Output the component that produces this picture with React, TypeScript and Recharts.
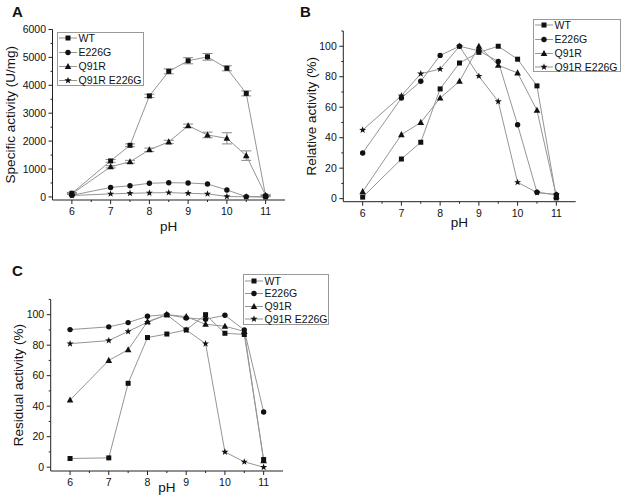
import React from 'react';
import { LineChart, Line, XAxis, YAxis, Legend, ErrorBar } from 'recharts';

const phValues = [6, 7, 7.5, 8, 8.5, 9, 9.5, 10, 10.5, 11];
const xTicks = [6, 6.5, 7, 7.5, 8, 8.5, 9, 9.5, 10, 10.5, 11];
const seriesNames = ['WT', 'E226G', 'Q91R', 'Q91R E226G'];

// A - specific activity (U/mg)
const specWT = [130, 1290, 1850, 3620, 4500, 4880, 5020, 4610, 3710, 30];
const specWTErr = [30, 50, 50, 60, 90, 110, 120, 90, 90, 20];
const specE226G = [60, 340, 400, 490, 510, 500, 465, 250, 10, 5];
const specQ91R = [110, 1080, 1260, 1690, 1970, 2550, 2220, 2100, 1480, 60];
const specQ91RErr = [20, 40, 50, 60, 60, 60, 100, 200, 170, 20];
const specDouble = [50, 110, 130, 145, 155, 130, 110, 15, 5, 0];
const specTicks = [0, 500, 1000, 1500, 2000, 2500, 3000, 3500, 4000, 4500, 5000, 5500, 6000];

// B - relative activity (%)
const relWT = [1, 26, 37, 72, 89, 96, 100, 91.5, 74, 0.5];
const relE226G = [30, 66, 77, 94, 100, 97, 90, 48.5, 4.2, 2.6];
const relQ91R = [4.6, 42, 50, 66, 77, 100, 87.5, 82.5, 58, 1.5];
const relDouble = [45, 67.5, 82, 85, 100, 80.4, 63.8, 10.7, 4, 2.6];

// C - residual activity (%)
const resWT = [5.7, 6.1, 55, 85, 87.3, 90, 100, 87.8, 87, 5];
const resE226G = [90.2, 92, 94.8, 99, 100, 97.8, 97, 99.6, 90, 36.2];
const resQ91R = [44, 70, 77, 95.4, 100, 98.7, 93.7, 92.4, 89, 4.2];
const resDouble = [81, 83, 89, 95, 100, 90, 81, 10, 3.5, 0];
const pctTicks = [0, 10, 20, 30, 40, 50, 60, 70, 80, 90, 100, 110];

const FONT = 'Arial, "Liberation Sans", sans-serif';
const LINE = '#959595';
const INK = '#111';
const AXIS = '#222';
const TICK_SIZE = 4;
const TICK_GAP = 3;

const shapes: Record<string, string> = {
  WT: 'square',
  E226G: 'circle',
  Q91R: 'triangle',
  'Q91R E226G': 'star',
};

const starPoints = (cx: number, cy: number, ro: number, ri: number) => {
  const pts: string[] = [];
  for (let i = 0; i < 10; i++) {
    const r = i % 2 === 0 ? ro : ri;
    const a = -Math.PI / 2 + (i * Math.PI) / 5;
    pts.push(`${cx + r * Math.cos(a)},${cy + r * Math.sin(a)}`);
  }
  return pts.join(' ');
};

const Marker = ({ shape, cx, cy }: { shape: string; cx: number; cy: number }) => {
  if (shape === 'square') return <rect x={cx - 2.5} y={cy - 2.5} width={5} height={5} fill={INK} />;
  if (shape === 'circle') return <circle cx={cx} cy={cy} r={2.7} fill={INK} />;
  if (shape === 'triangle')
    return <polygon points={`${cx},${cy - 3.6} ${cx - 3.3},${cy + 2.5} ${cx + 3.3},${cy + 2.5}`} fill={INK} />;
  return <polygon points={starPoints(cx, cy, 3.7, 1.5)} fill={INK} />;
};

const dotFor = (name: string) => (p: any) =>
  p.cx == null || p.cy == null ? <g key={p.index} /> : (
    <g key={p.index}>
      <Marker shape={shapes[name]} cx={p.cx} cy={p.cy} />
    </g>
  );

const XTick = ({ x, y, payload }: any) => {
  const v = payload.value;
  const major = Number.isInteger(v);
  const ay = y - TICK_SIZE - TICK_GAP;
  return (
    <g>
      <line x1={x} x2={x} y1={ay} y2={ay + (major ? 4 : 2)} stroke={AXIS} />
      {major && (
        <text x={x} y={ay + 15} textAnchor="middle" fontSize={10.5} fontFamily={FONT} fill={INK}>
          {v}
        </text>
      )}
    </g>
  );
};

const makeYTick = (step: number, maxLabel: number) => ({ x, y, payload }: any) => {
  const v = payload.value;
  const major = v % step === 0;
  const ax = x + TICK_SIZE + TICK_GAP;
  return (
    <g>
      <line x1={ax - (major ? 4 : 2)} x2={ax} y1={y} y2={y} stroke={AXIS} />
      {major && v <= maxLabel && (
        <text x={ax - 6.5} y={y + 3.7} textAnchor="end" fontSize={10.5} fontFamily={FONT} fill={INK}>
          {v}
        </text>
      )}
    </g>
  );
};

const LegendBox = ({ payload, w, h, rows }: any) => {
  const items = [...(payload || [])].sort(
    (a: any, b: any) => seriesNames.indexOf(a.value) - seriesNames.indexOf(b.value)
  );
  return (
    <svg width={w} height={h} style={{ display: 'block' }}>
      <rect x={0.5} y={0.5} width={w - 1} height={h - 1} fill="#fff" stroke="#999" />
      {items.map((p: any, i: number) => (
        <g key={p.value}>
          <line x1={2} x2={20} y1={rows[i]} y2={rows[i]} stroke={LINE} />
          <Marker shape={shapes[p.value]} cx={11} cy={rows[i]} />
          <text x={21.5} y={rows[i] + 3.8} fontSize={10.5} fontFamily={FONT} fill={INK}>
            {p.value}
          </text>
        </g>
      ))}
    </svg>
  );
};

const buildRows = (wt: number[], e: number[], q: number[], d: number[]) =>
  phValues.map((ph, i) => ({ ph, wt: wt[i], e226g: e[i], q91r: q[i], dbl: d[i] }));

const dataA = phValues.map((ph, i) => ({
  ph,
  wt: specWT[i],
  wtErr: specWTErr[i],
  e226g: specE226G[i],
  q91r: specQ91R[i],
  q91rErr: specQ91RErr[i],
  dbl: specDouble[i],
}));
const dataB = buildRows(relWT, relE226G, relQ91R, relDouble);
const dataC = buildRows(resWT, resE226G, resQ91R, resDouble);

const labelStyle = { fontSize: 13.5, fontFamily: FONT, fill: INK };

const seriesLines = (withErr: boolean) => [
  <Line key="wt" dataKey="wt" name={seriesNames[0]} stroke={LINE} strokeWidth={1} dot={dotFor('WT')} isAnimationActive={false}>
    {withErr && <ErrorBar dataKey="wtErr" width={5} stroke="#888" strokeWidth={1} direction="y" />}
  </Line>,
  <Line key="e" dataKey="e226g" name={seriesNames[1]} stroke={LINE} strokeWidth={1} dot={dotFor('E226G')} isAnimationActive={false} />,
  <Line key="q" dataKey="q91r" name={seriesNames[2]} stroke={LINE} strokeWidth={1} dot={dotFor('Q91R')} isAnimationActive={false}>
    {withErr && <ErrorBar dataKey="q91rErr" width={5} stroke="#888" strokeWidth={1} direction="y" />}
  </Line>,
  <Line key="d" dataKey="dbl" name={seriesNames[3]} stroke={LINE} strokeWidth={1} dot={dotFor('Q91R E226G')} isAnimationActive={false} />,
];

const panelLabel = (text: string, left: number, top: number) => (
  <div style={{ position: 'absolute', left, top, fontFamily: FONT, fontWeight: 'bold', fontSize: 15, lineHeight: '17px', color: INK }}>
    {text}
  </div>
);

export default function App() {
  return (
    <div style={{ position: 'absolute', left: 0, top: 0, width: 622, height: 503, background: '#fff', overflow: 'hidden' }}>
      <div style={{ position: 'absolute', left: 0, top: 0 }}>
        <LineChart width={310} height={250} data={dataA} margin={{ top: 29.5, right: 25, bottom: 10, left: 0 }}>
          <XAxis
            type="number"
            dataKey="ph"
            domain={[5.5, 11.5]}
            ticks={xTicks}
            interval={0}
            tickSize={TICK_SIZE}
            tickMargin={TICK_GAP}
            tickLine={false}
            tick={<XTick />}
            stroke={AXIS}
            height={40}
            label={{ value: 'pH', position: 'insideBottom', offset: 9, style: labelStyle }}
          />
          <YAxis
            type="number"
            domain={[-110, 6000]}
            ticks={specTicks}
            interval={0}
            tickSize={TICK_SIZE}
            tickMargin={TICK_GAP}
            tickLine={false}
            tick={makeYTick(1000, 6000)}
            stroke={AXIS}
            width={52.5}
            label={{ value: 'Specific activity (U/mg)', angle: -90, position: 'insideLeft', offset: 10, style: { ...labelStyle, textAnchor: 'middle' } }}
          />
          <Legend
            layout="vertical"
            align="center"
            verticalAlign="middle"
            wrapperStyle={{ left: 57, top: 31.5, width: 87, height: 54 }}
            content={(props: any) => <LegendBox payload={props.payload} w={87} h={54} rows={[6, 20.5, 34.5, 48.5]} />}
          />
          {seriesLines(true)}
        </LineChart>
      </div>

      <div style={{ position: 'absolute', left: 296, top: 0 }}>
        <LineChart width={326} height={250} data={dataB} margin={{ top: 31, right: 46.3, bottom: 8.3, left: 0 }}>
          <XAxis
            type="number"
            dataKey="ph"
            domain={[5.5, 11.5]}
            ticks={xTicks}
            interval={0}
            tickSize={TICK_SIZE}
            tickMargin={TICK_GAP}
            tickLine={false}
            tick={<XTick />}
            stroke={AXIS}
            height={40}
            label={{ value: 'pH', position: 'insideBottom', offset: 15, style: labelStyle }}
          />
          <YAxis
            type="number"
            domain={[-2, 110]}
            ticks={pctTicks}
            interval={0}
            tickSize={TICK_SIZE}
            tickMargin={TICK_GAP}
            tickLine={false}
            tick={makeYTick(20, 100)}
            stroke={AXIS}
            width={47.3}
            label={{ value: 'Relative activity (%)', angle: -90, position: 'insideLeft', offset: 15, style: { ...labelStyle, textAnchor: 'middle' } }}
          />
          <Legend
            layout="vertical"
            align="center"
            verticalAlign="middle"
            wrapperStyle={{ left: 237, top: 19, width: 88, height: 53 }}
            content={(props: any) => <LegendBox payload={props.payload} w={88} h={53} rows={[6, 20.5, 34.5, 48]} />}
          />
          {seriesLines(false)}
        </LineChart>
      </div>

      <div style={{ position: 'absolute', left: 0, top: 255 }}>
        <LineChart width={350} height={248} data={dataC} margin={{ top: 44.4, right: 67, bottom: 2, left: 0 }}>
          <XAxis
            type="number"
            dataKey="ph"
            domain={[5.5, 11.5]}
            ticks={xTicks}
            interval={0}
            tickSize={TICK_SIZE}
            tickMargin={TICK_GAP}
            tickLine={false}
            tick={<XTick />}
            stroke={AXIS}
            height={30}
            label={{ value: 'pH', position: 'insideBottom', offset: 9, style: labelStyle }}
          />
          <YAxis
            type="number"
            domain={[-2.5, 110]}
            ticks={pctTicks}
            interval={0}
            tickSize={TICK_SIZE}
            tickMargin={TICK_GAP}
            tickLine={false}
            tick={makeYTick(20, 100)}
            stroke={AXIS}
            width={50.7}
            label={{ value: 'Residual activity (%)', angle: -90, position: 'insideLeft', offset: 18, style: { ...labelStyle, textAnchor: 'middle' } }}
          />
          <Legend
            layout="vertical"
            align="center"
            verticalAlign="middle"
            wrapperStyle={{ left: 243, top: 19, width: 86, height: 51 }}
            content={(props: any) => <LegendBox payload={props.payload} w={86} h={51} rows={[7, 19.5, 32.5, 45]} />}
          />
          {seriesLines(false)}
        </LineChart>
      </div>

      {panelLabel('A', 12, 2.5)}
      {panelLabel('B', 300, 2.5)}
      {panelLabel('C', 12, 262)}
    </div>
  );
}
